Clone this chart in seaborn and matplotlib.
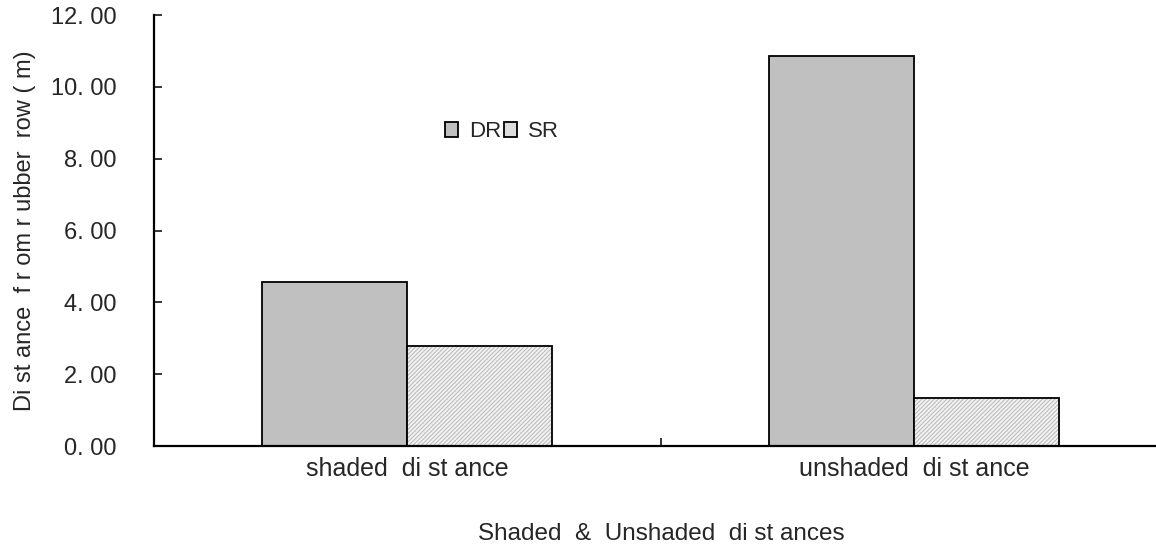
import matplotlib
matplotlib.use("Agg")
import matplotlib.pyplot as plt
import seaborn as sns
import pandas as pd
from matplotlib.patches import Patch, Rectangle

categories = ["shaded  di st ance", "unshaded  di st ance"]
series = ["DR", "SR"]
dr_values = [4.57, 10.87]
sr_values = [2.78, 1.35]
ytick_values = [0, 2, 4, 6, 8, 10, 12]
ytick_labels = ["0. 00", "2. 00", "4. 00", "6. 00", "8. 00", "10. 00", "12. 00"]

df = pd.DataFrame({
    "category": categories * 2,
    "series": [series[0]] * 2 + [series[1]] * 2,
    "value": dr_values + sr_values,
})

sns.set_style("white")
plt.rcParams["font.family"] = ["Liberation Sans", "DejaVu Sans"]
plt.rcParams["hatch.linewidth"] = 0.7

DR_COLOR = "#c0c0c0"
SR_FACE = "#f2f2f2"
SR_HATCH = "#b8b8b8"

fig = plt.figure(figsize=(11.56, 5.48), dpi=100)
ax = fig.add_axes([0.1332, 0.186, 0.877, 0.7865])

sns.barplot(data=df, x="category", y="value", hue="series", order=categories,
            hue_order=series, palette=[DR_COLOR, SR_FACE], width=0.572,
            edgecolor="black", linewidth=1.3, saturation=1, ax=ax, legend=False)

# fine light hatching on the SR bars, with a black outline on top
for bar in ax.containers[1]:
    bar.set_hatch("////////")
    bar.set_edgecolor(SR_HATCH)
    bar.set_linewidth(0)
    ax.add_patch(Rectangle(bar.get_xy(), bar.get_width(), bar.get_height(),
                           fill=False, edgecolor="black", linewidth=1.3,
                           zorder=bar.get_zorder() + 0.1))

ax.set_xlim(-0.5, 1.5)
ax.set_ylim(0, 12)
ax.set_yticks(ytick_values)
ax.set_yticklabels(ytick_labels, fontsize=17)
ax.tick_params(axis="y", direction="in", length=6, width=1.3, pad=27, left=True)
ax.tick_params(axis="x", which="major", length=0, pad=8, labelsize=18)
ax.set_xticks([0.5], minor=True)
ax.tick_params(axis="x", which="minor", direction="in", length=6, width=1.3, bottom=True)

for side in ["top", "right"]:
    ax.spines[side].set_visible(False)
for side in ["left", "bottom"]:
    ax.spines[side].set_linewidth(1.6)
    ax.spines[side].set_color("black")

ax.set_xlabel("Shaded  &  Unshaded  di st ances", fontsize=17.5, labelpad=30)
ax.set_ylabel("Di st ance  f r om r ubber  row ( m)", fontsize=17, labelpad=11)

handles = [Patch(facecolor=DR_COLOR, edgecolor="black", linewidth=1.3),
           Patch(facecolor="#dcdcdc", edgecolor="black", linewidth=1.3)]
ax.legend(handles, series, loc="center left", bbox_to_anchor=(0.276, 0.73),
          ncol=2, frameon=False, fontsize=16,
          handlelength=0.6, handleheight=0.65, handletextpad=0.5,
          columnspacing=0.1, borderpad=0)

fig.savefig("out.png", dpi=100)
